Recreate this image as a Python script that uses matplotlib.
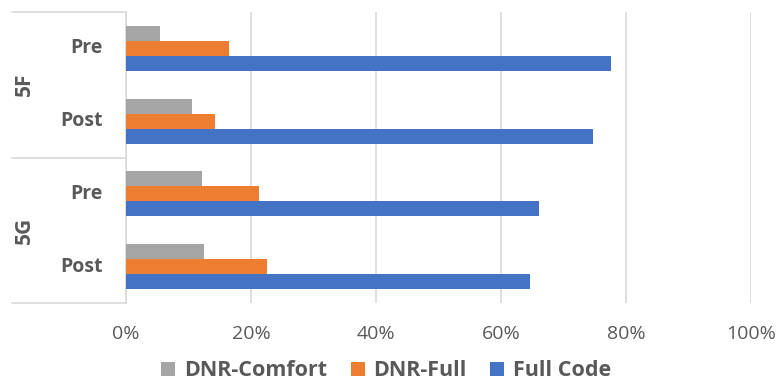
import matplotlib
matplotlib.use("Agg")
import matplotlib.pyplot as plt
from matplotlib.lines import Line2D
from matplotlib.ticker import PercentFormatter
import numpy as np

plt.rcParams['font.family'] = ['Open Sans', 'DejaVu Sans']

groups = ["5F", "5G"]
phases = ["Pre", "Post"]
series_names = ["DNR-Comfort", "DNR-Full", "Full Code"]
# rows: 5F Pre, 5F Post, 5G Pre, 5G Post
dnr_comfort = [5.4, 10.6, 12.1, 12.4]
dnr_full = [16.4, 14.2, 21.3, 22.5]
full_code = [77.6, 74.7, 66.1, 64.6]
colors = ["#A5A5A5", "#ED7D31", "#4472C4"]
xticks = [0, 20, 40, 60, 80, 100]

fig = plt.figure(figsize=(7.77, 3.85), dpi=100)
ax = fig.add_axes([126/777, 1 - 303/385, (751-126)/777, (303-12)/385])

n = len(dnr_comfort)
y = np.arange(n)
h = 0.206
for i, (vals, c, name) in enumerate(zip([dnr_comfort, dnr_full, full_code], colors, series_names)):
    ax.barh(y + (i - 1) * h, vals, height=h, color=c, label=name, zorder=3)

ax.set_ylim(n - 0.5, -0.5)
ax.set_xlim(0, 100)
ax.set_xticks(xticks)
ax.xaxis.set_major_formatter(PercentFormatter(decimals=0))
ax.grid(axis='x', color='#D9D9D9', linewidth=1.2, zorder=0)
ax.tick_params(axis='x', length=0, pad=16, labelsize=14, labelcolor='#595959')
ax.set_yticks([])
for s in ['top', 'right', 'bottom']:
    ax.spines[s].set_visible(False)
ax.spines['left'].set_color('#D9D9D9')
ax.spines['left'].set_linewidth(1.2)

# Phase labels
labels = [p for g in groups for p in phases]
trans = matplotlib.transforms.blended_transform_factory(ax.transAxes, ax.transData)
for yi, lab in zip(y, labels):
    ax.text(-0.038, yi, lab, transform=trans, ha='right', va='center',
            fontsize=14, fontweight='bold', color='#595959')
# Group labels
for gi, g in enumerate(groups):
    ax.text(-0.162, gi * 2 + 0.5, g, transform=trans, ha='center', va='center',
            rotation=90, fontsize=15, fontweight='bold', color='#595959')
# Separator lines
for yy in [1.0, 0.5, 0.0]:
    ax.add_line(Line2D([-0.182, 0], [yy, yy], transform=ax.transAxes,
                       color='#D9D9D9', linewidth=1.2, clip_on=False))

leg = fig.legend(loc='center', bbox_to_anchor=(386/777, 1 - 371/385), ncol=3,
                 frameon=False, handlelength=0.65, handleheight=0.65,
                 handletextpad=0.4, columnspacing=1.1, borderpad=0.2,
                 prop={'size': 15.5, 'weight': 'bold'})
for t in leg.get_texts():
    t.set_color('#595959')

fig.savefig("out.png", dpi=100)
